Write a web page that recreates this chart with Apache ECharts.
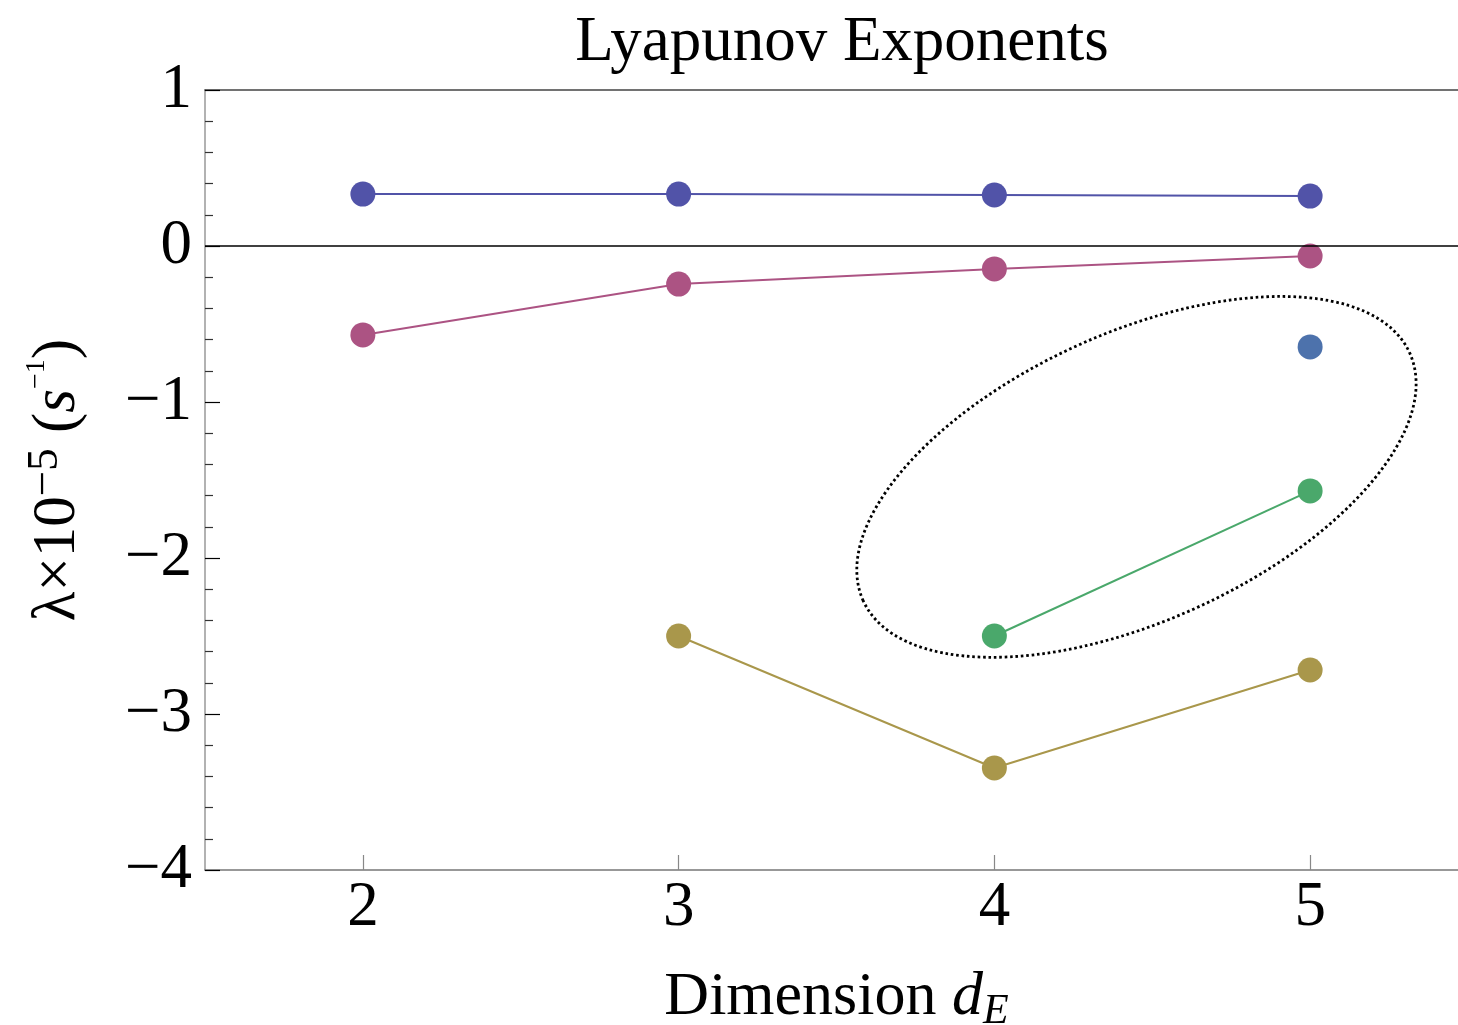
<!DOCTYPE html>
<html>
<head>
<meta charset="utf-8">
<script src="https://cdn.jsdelivr.net/npm/echarts@6/dist/echarts.min.js"></script>
<style>
html,body{margin:0;padding:0;background:#fff;}
#chart{width:1458px;height:1025px;}
</style>
</head>
<body>
<div id="chart"></div>
<script>
// ---- data ----
const dims = [2, 3, 4, 5];
const xTicks = [2, 3, 4, 5];
const yTicks = [-4, -3, -2, -1, 0, 1];
const exponent1 = [0.333, 0.333, 0.327, 0.320];      // blue
const exponent2 = [-0.57, -0.244, -0.147, -0.064];    // magenta
const exponent3 = [null, null, null, -0.647];          // steel blue (single)
const exponent4 = [null, null, -2.50, -1.57];          // green
const exponent5 = [null, -2.50, -3.346, -2.718];       // olive
const ellipseCenter = [4.45, -1.48];

const FONT = "'Liberation Serif', 'DejaVu Serif', serif";
function pairs(vals) {
  const out = [];
  vals.forEach((v, i) => { if (v !== null) out.push([dims[i], v]); });
  return out;
}
function mkSeries(vals, color, extra) {
  return Object.assign({
    type: 'line',
    data: pairs(vals),
    symbol: 'circle',
    symbolSize: 25,
    itemStyle: { color: color, borderWidth: 0 },
    lineStyle: { color: color, width: 2 },
    emphasis: { disabled: true },
    silent: true,
    z: 3
  }, extra || {});
}

const chart = echarts.init(document.getElementById('chart'), null, { renderer: 'canvas' });
const option = {
  animation: false,
  backgroundColor: '#fff',
  title: {
    text: 'Lyapunov Exponents',
    left: 837,
    top: 3,
    textAlign: 'center',
    textStyle: { fontFamily: FONT, fontSize: 63, fontWeight: 'normal', color: '#000', lineHeight: 70 }
  },
  grid: { left: 205, right: -10, top: 90, bottom: 155, containLabel: false, outerBoundsMode: 'none' },
  xAxis: [{
    type: 'value',
    min: 1.5, max: 5.5,
    position: 'bottom',
    axisLine: { show: true, onZero: false, lineStyle: { color: '#777', width: 1.5 } },
    axisTick: { show: true, inside: true, length: 15, customValues: xTicks, lineStyle: { color: '#888', width: 1.2 } },
    axisLabel: {
      show: true, customValues: xTicks, margin: 7,
      fontFamily: FONT, fontSize: 63, lineHeight: 63, color: '#000'
    },
    splitLine: { show: false },
    name: '{m|Dimension }{i|d}{sub|E}',
    nameLocation: 'middle',
    nameGap: 93,
    nameTextStyle: {
      rich: {
        m: { fontFamily: FONT, fontSize: 62, lineHeight: 70, color: '#000' },
        i: { fontFamily: FONT, fontSize: 62, fontStyle: 'italic', lineHeight: 70, color: '#000' },
        sub: { fontFamily: FONT, fontSize: 42, fontStyle: 'italic', lineHeight: 22, verticalAlign: 'bottom', color: '#000' }
      }
    }
  }, {
    type: 'value',
    min: 1.5, max: 5.5,
    position: 'top',
    axisLine: { show: true, onZero: false, lineStyle: { color: '#444', width: 1.5 } },
    axisTick: { show: false },
    axisLabel: { show: false },
    splitLine: { show: false }
  }],
  yAxis: {
    type: 'value',
    min: -4, max: 1, interval: 1,
    axisLine: { show: true, onZero: false, lineStyle: { color: '#999', width: 1.5 } },
    axisTick: { show: true, inside: true, length: 15, lineStyle: { color: '#000', width: 1.2 } },
    minorTick: { show: true, splitNumber: 5, length: 8, lineStyle: { color: '#333', width: 1.2 } },
    axisLabel: {
      margin: 13, fontFamily: FONT, fontSize: 63, color: '#000',
      padding: [0, 0, 12, 0],
      formatter: v => (v < 0 ? '\u2212' : '') + Math.abs(v)
    },
    splitLine: { show: false },
    minorSplitLine: { show: false },
    name: '{m|\u03bb\u00d710}{p|\u22125}{m| (}{s|s}{q|\u22121}{m|)}',
    nameLocation: 'middle',
    nameRotate: 90,
    nameGap: 112,
    nameTextStyle: {
      rich: {
        m: { fontFamily: FONT, fontSize: 61, lineHeight: 70, color: '#000' },
        s: { fontFamily: FONT, fontSize: 61, fontStyle: 'italic', lineHeight: 70, color: '#000' },
        p: { fontFamily: FONT, fontSize: 45, lineHeight: 16, verticalAlign: 'top', color: '#000' },
        q: { fontFamily: FONT, fontSize: 28, lineHeight: 16, verticalAlign: 'top', color: '#000' }
      }
    }
  },
  series: [
    mkSeries(exponent1, '#5153a8', {
      markLine: {
        silent: true, symbol: 'none', label: { show: false },
        lineStyle: { color: '#000', width: 1.5, type: 'solid' },
        data: [{ yAxis: 0 }],
        z: 5
      }
    }),
    mkSeries(exponent2, '#ac5383'),
    mkSeries(exponent3, '#4d72ac'),
    mkSeries(exponent4, '#4aa86b'),
    mkSeries(exponent5, '#a9974b')
  ]
};
chart.setOption(option);

const c = chart.convertToPixel({ xAxisIndex: 0, yAxisIndex: 0 }, ellipseCenter);
chart.setOption({
  graphic: [{
    type: 'ellipse',
    x: c[0], y: c[1],
    rotation: 24.4 * Math.PI / 180,
    shape: { cx: 0, cy: 0, rx: 300, ry: 144 },
    style: { fill: null, stroke: '#000', lineWidth: 2.8, lineDash: [2.6, 2.8] },
    silent: true,
    z: 10
  }]
});
</script>
</body>
</html>
